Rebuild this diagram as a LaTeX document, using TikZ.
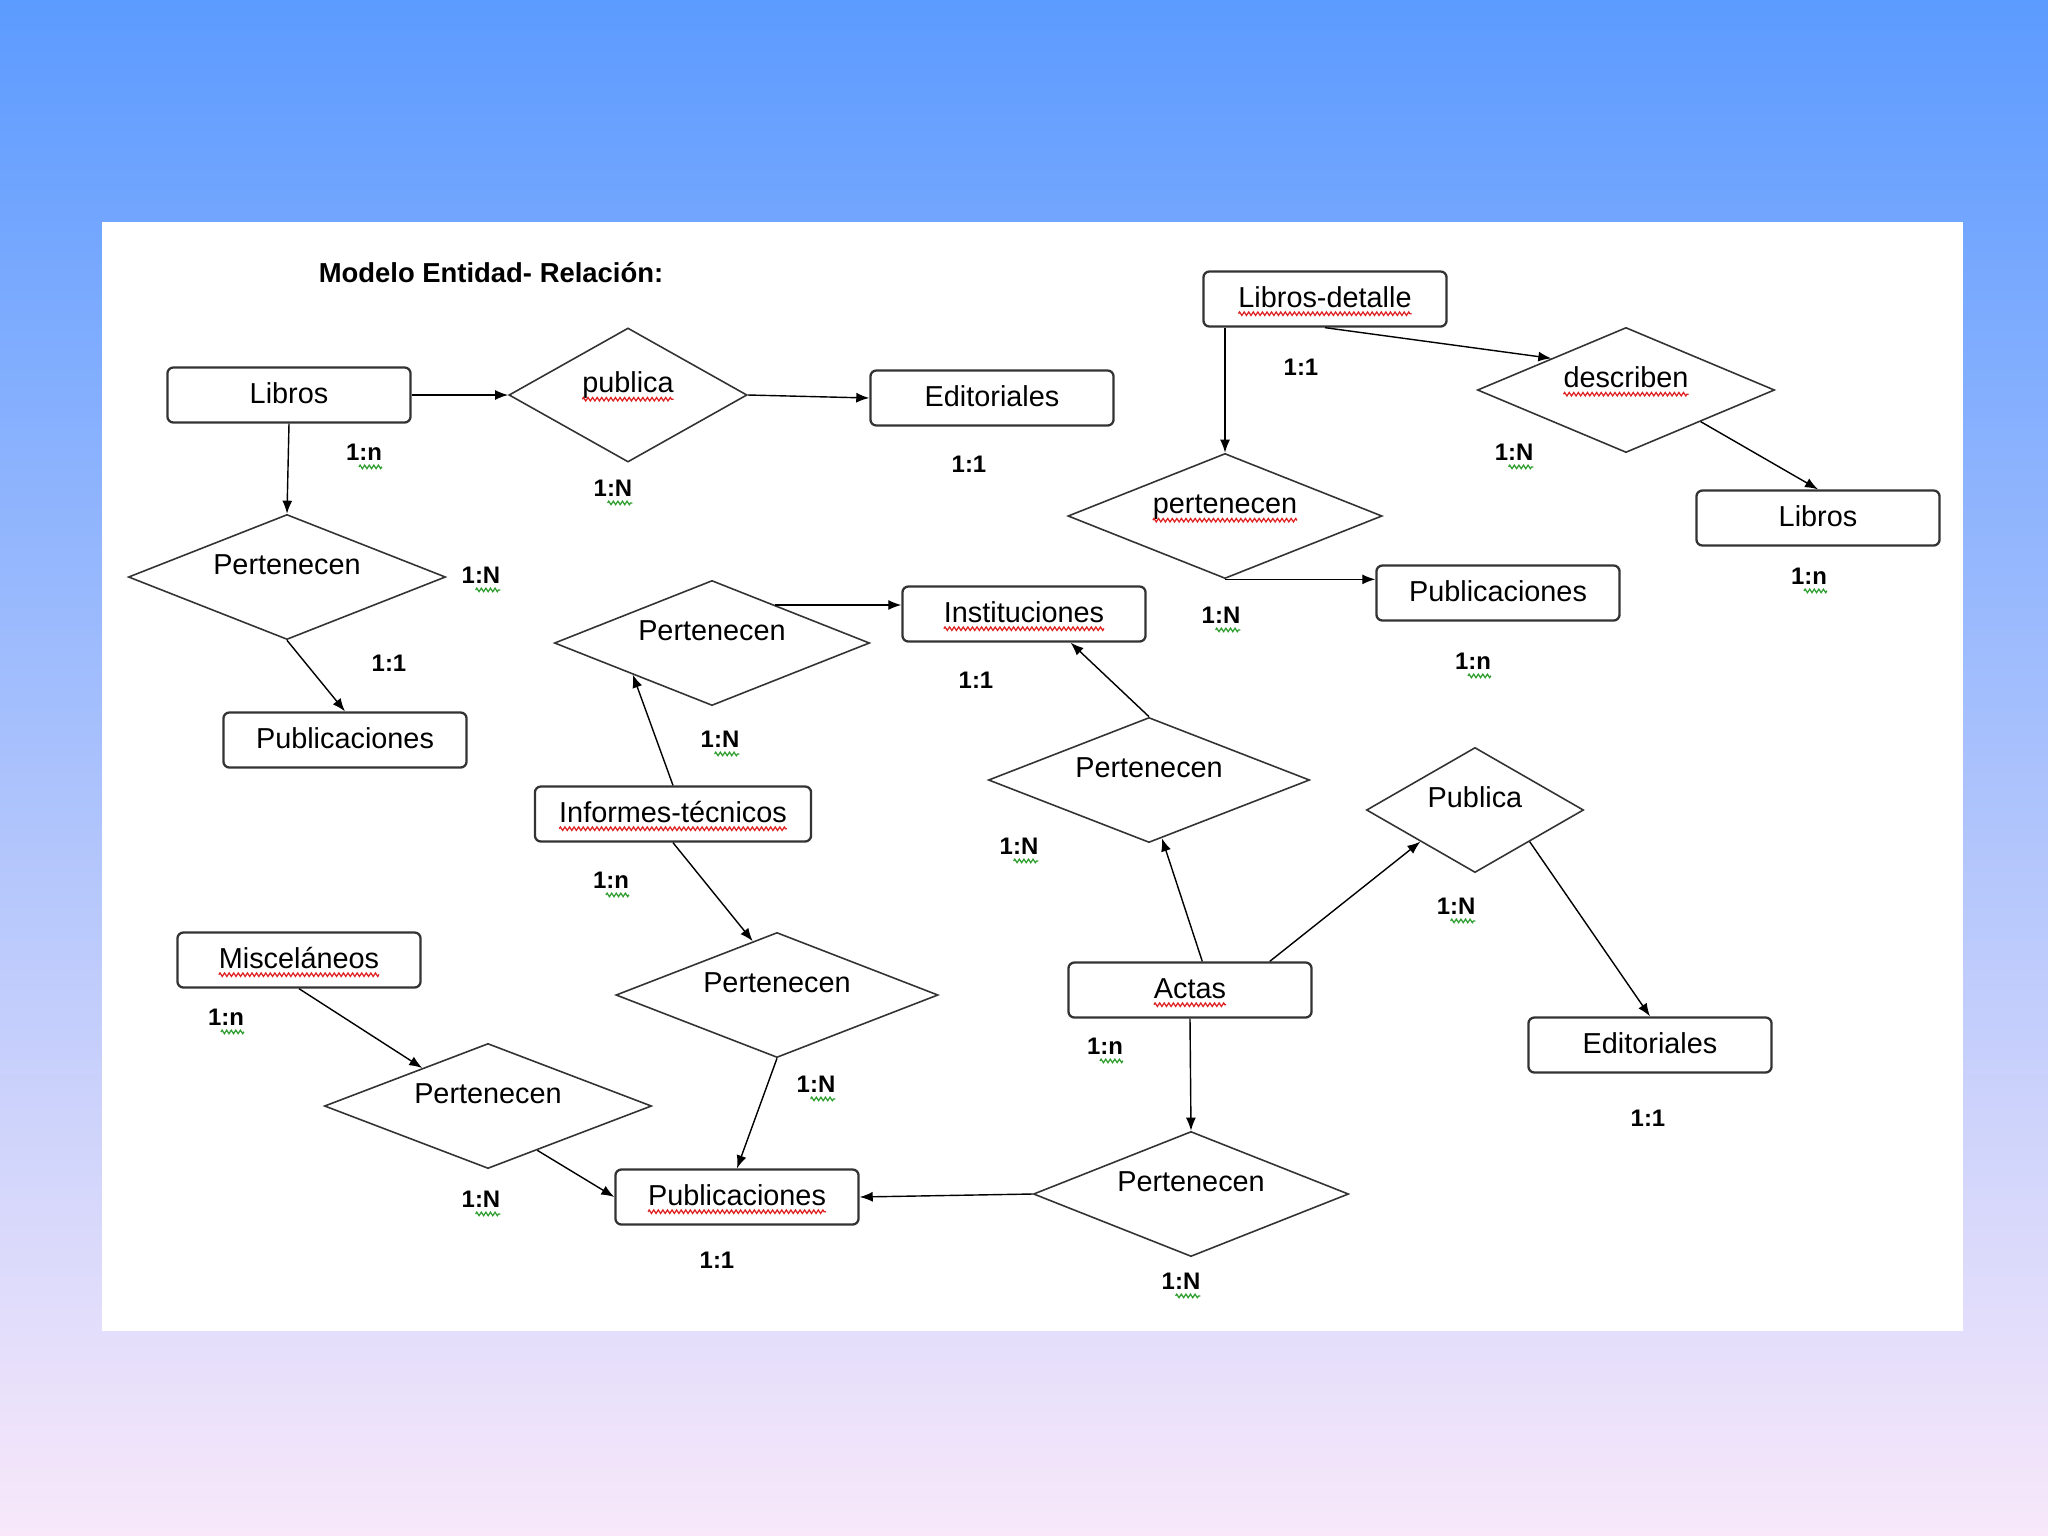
\documentclass[tikz,border=0pt]{standalone}
\usepackage{fontspec}
\setmainfont{Liberation Sans}
\usepackage{xcolor}
\usepackage{tikz}
\usetikzlibrary{arrows.meta,calc,decorations.pathmorphing,shapes.geometric}
\definecolor{erSkyTop}{RGB}{92,155,255}
\definecolor{erSkyBottom}{RGB}{248,232,250}
\definecolor{erInk}{HTML}{000000}
\definecolor{erFrame}{HTML}{333333}
\definecolor{erSpell}{HTML}{E02020}
\definecolor{erGrammar}{HTML}{2E9E2E}
% wave under a node text, from part #3 of its width (0 = whole text)
\newcommand{\erwave}[3]{%
  \draw[er wave, draw=#2]
    ($($(#1.text)!#3!(#1.text -| #1.center)$)+(0pt,-1.9pt)$) --
    ($($(#1.text)!2!(#1.text -| #1.center)$)+(0pt,-1.9pt)$);}
\tikzset{
  er diagram/.style={font=\fontsize{8.2}{9.5}\selectfont, text=erInk},
  er entity/.style={draw=erFrame, fill=white, line width=0.65pt,
    rounded corners=0.06cm, minimum width=2.43cm, minimum height=0.55cm,
    inner sep=0pt, text height=0.21cm, text depth=0.05cm},
  er link/.style={diamond, draw=erFrame, fill=white, line width=0.45pt,
    shape aspect=2.5, minimum width=3.17cm, minimum height=1.25cm,
    inner sep=0pt, text height=0.21cm, text depth=0.26cm},
  er arrow/.style={-{Latex[length=0.13cm,width=0.1cm]}, draw=black, line width=0.4pt},
  er card/.style={font=\fontsize{6.8}{8}\selectfont\bfseries},
  er title/.style={font=\fontsize{7.8}{9}\selectfont\bfseries},
  er wave/.style={line width=0.35pt, decorate,
    decoration={zigzag, amplitude=0.5pt, segment length=1.3pt}}
}
\begin{document}
\begin{tikzpicture}[er diagram,x=0.01cm,y=-0.01cm]
\useasboundingbox (0,0) rectangle (2048,1536);
\shade[top color=erSkyTop, bottom color=erSkyBottom] (0,0) rectangle (2048,1536);
\fill[white] (102,222) rectangle (1963,1331);

\node[er title] (title) at (491,273) {Modelo Entidad- Relación:};

% entidades
\node[er entity] (libros) at (289,395) {Libros};
\node[er entity] (edit1) at (992,398) {Editoriales};
\node[er entity] (pub1) at (345,740) {Publicaciones};
\node[er entity] (libdet) at (1325,299) {Libros-detalle};
\node[er entity] (libros2) at (1818,518) {Libros};
\node[er entity] (pub2) at (1498,593) {Publicaciones};
\node[er entity] (inst) at (1024,614) {Instituciones};
\node[er entity, minimum width=2.76cm] (inf) at (673,814) {Informes-técnicos};
\node[er entity] (actas) at (1190,990) {Actas};
\node[er entity] (edit2) at (1650,1045) {Editoriales};
\node[er entity] (pub3) at (737,1197) {Publicaciones};
\node[er entity] (misc) at (299,960) {Misceláneos};

% relaciones
\node[er link, minimum width=2.38cm, minimum height=1.34cm] (publica) at (628,395) {publica};
\node[er link] (pert1) at (287,577) {Pertenecen};
\node[er link, minimum width=3.14cm] (pert2) at (1225,516) {pertenecen};
\node[er link, minimum width=2.97cm] (describen) at (1626,390) {describen};
\node[er link, minimum width=3.15cm] (pert3) at (712,643) {Pertenecen};
\node[er link, minimum width=3.21cm] (pert4) at (1149,780) {Pertenecen};
\node[er link, minimum width=2.17cm] (publica2) at (1475,810) {Publica};
\node[er link, minimum width=3.22cm] (pert5) at (777,995) {Pertenecen};
\node[er link, minimum width=3.15cm] (pert6) at (1191,1194) {Pertenecen};
\node[er link, minimum width=3.27cm] (pert7) at (488,1106) {Pertenecen};

% subrayado ortografico
\foreach \w in {libdet,inst,inf,actas,pub3,misc,publica,pert2,describen}
  \erwave{\w}{erSpell}{0};

% conectores
\draw[er arrow] (libros.east) -- (publica.west);
\draw[er arrow] (publica.east) -- (edit1.west);
\draw[er arrow] (libros.south) -- (pert1.north);
\draw[er arrow] (pert1.south) -- (pub1.north);
\draw[er arrow] (pert2.north |- libdet.south) -- (pert2.north);
\draw[er arrow] (libdet.south) -- (describen.north west);
\draw[er arrow] (describen.south east) -- (libros2.north);
\draw[er arrow] (pert2.south) -- (pert2.south -| pub2.west);
\coordinate (p3out) at ($(pert3.north)!0.4!(pert3.east)$);
\draw[er arrow] (p3out) -- (p3out -| inst.west);
\draw[er arrow] (inf.north) -- (pert3.south west);
\draw[er arrow] (inf.south) -- ($(pert5.north)!0.15!(pert5.west)$);
\draw[er arrow] (pert4.north) -- ($(inst.south)!0.38!(inst.south east)$);
\draw[er arrow] ($(actas.north)!0.1!(actas.north east)$) -- ($(pert4.south)!0.08!(pert4.east)$);
\draw[er arrow] ($(actas.north)!0.65!(actas.north east)$) -- (publica2.south west);
\draw[er arrow] (publica2.south east) -- (edit2.north);
\draw[er arrow] (actas.south) -- (pert6.north);
\draw[er arrow] (pert6.west) -- (pub3.east);
\draw[er arrow] (pert5.south) -- (pub3.north);
\draw[er arrow] (misc.south) -- ($(pert7.north)!0.4!(pert7.west)$);
\draw[er arrow] ($(pert7.south)!0.3!(pert7.east)$) -- (pub3.west);

% cardinalidades
\foreach \cx/\cy/\cr [count=\k] in {
  364/452/n, 613/488/N, 969/464/1, 481/575/N, 389/663/1, 1301/367/1,
  1514/452/N, 1809/576/n, 1221/615/N, 1473/661/n, 976/680/1, 720/739/N,
  611/880/n, 1019/846/N, 1456/906/N, 1648/1118/1, 1105/1046/n,
  1181/1281/N, 816/1084/N, 717/1260/1, 226/1017/n, 481/1199/N}{
  \node[er card] (card\k) at (\cx,\cy) {1:\cr};
  \if\cr1\else\erwave{card\k}{erGrammar}{0.72}\fi
}
\end{tikzpicture}
\end{document}
